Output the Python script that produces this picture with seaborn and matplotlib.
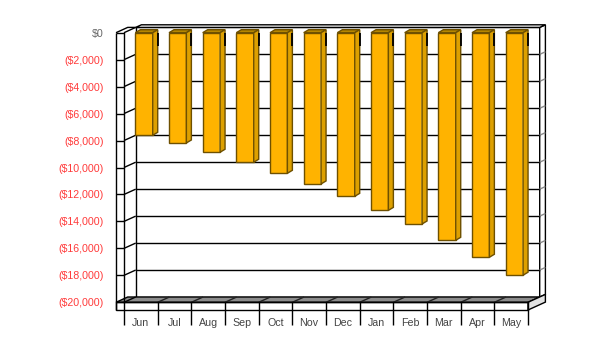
import numpy as np
import pandas as pd
import matplotlib
matplotlib.use('Agg')
import matplotlib.pyplot as plt
import seaborn as sns
from matplotlib.patches import Polygon, Rectangle

# ---- data ----
months = ['Jun', 'Jul', 'Aug', 'Sep', 'Oct', 'Nov', 'Dec', 'Jan', 'Feb', 'Mar', 'Apr', 'May']
balance = [-7610, -8180, -8870, -9610, -10430, -11220, -12140, -13180, -14190, -15400, -16660, -17990]
ytick_values = [0, -2000, -4000, -6000, -8000, -10000, -12000, -14000, -16000, -18000, -20000]
ytick_labels = ['$0', '($2,000)', '($4,000)', '($6,000)', '($8,000)', '($10,000)',
                '($12,000)', '($14,000)', '($16,000)', '($18,000)', '($20,000)']

sns.set_theme(style='white')
plt.rcParams['font.family'] = ['Liberation Sans', 'DejaVu Sans']

W, H = 604, 348
fig = plt.figure(figsize=(W / 100, H / 100), dpi=100)
x0, x1 = 124, 528
ytop, ybot = 32.7, 302.3
ax = fig.add_axes([x0 / W, (H - ybot) / H, (x1 - x0) / W, (ybot - ytop) / H])

df = pd.DataFrame({'month': months, 'balance': balance})
sns.barplot(data=df, x='month', y='balance', order=months, color='#FFB300',
            saturation=1, width=0.516, edgecolor='#6E5000', linewidth=1,
            ax=ax, zorder=1)
bars = list(ax.patches)

ymin, ymax = -20000, 0
ax.set_xlim(-0.5, 11.5)
ax.set_ylim(ymin, ymax)
ax.patch.set_visible(False)

# pixel -> data conversions
p0 = ax.transData.transform((0, 0))
ppx = ax.transData.transform((1, 0))[0] - p0[0]
ppy = ax.transData.transform((0, 1))[1] - p0[1]
def off(px, py):
    return px / ppx, py / ppy

Dx, Dy = off(11.7, 5.3)      # wall depth
dx, dy = off(5.0, 3.0)       # bar depth
tx, ty = off(8.0, 7.7)       # slab thickness
ex, ey = off(5.7, 2.6)       # back-wall thickness
L, R = -0.5, 11.5

def poly(pts, fc, ec='black', z=0.3, lw=1):
    ax.add_patch(Polygon(pts, closed=True, facecolor=fc, edgecolor=ec,
                         linewidth=lw, zorder=z, clip_on=False))

def line(xs, ys, c='black', z=0.35, lw=1):
    ax.plot(xs, ys, color=c, lw=lw, zorder=z, clip_on=False, solid_capstyle='butt')

# back wall
poly([(L + Dx, ymin + Dy), (R + Dx, ymin + Dy), (R + Dx, Dy), (L + Dx, Dy)], 'white', z=0.2)
poly([(R + Dx, Dy), (R + Dx + ex, Dy + ey), (R + Dx + ex, ymin + Dy + ey), (R + Dx, ymin + Dy)], 'white', z=0.2)
poly([(L + Dx, Dy), (R + Dx, Dy), (R + Dx + ex, Dy + ey), (L + Dx + ex, Dy + ey)], 'white', z=0.2)
for v in ytick_values[1:-1]:
    line([L + Dx, R + Dx], [v + Dy, v + Dy], z=0.3)
    line([R + Dx, R + Dx + ex], [v + Dy, v + Dy + ey], c='#8a8a8a', z=0.3)
# left wall diagonals
for v in ytick_values:
    line([L, L + Dx], [v, v + Dy], z=0.3)
line([L - tx, L - tx + Dx, L + Dx], [0, Dy, Dy], z=0.3)
line([L - tx, L - tx], [0, ymin - ty], z=0.45)

# floor
poly([(L - tx, ymin), (R, ymin), (R + Dx, ymin + Dy), (L - tx + Dx, ymin + Dy)], '#8C8C8C', z=0.25)
for k in np.arange(0.5, 11, 1):
    line([k, k + Dx], [ymin, ymin + Dy], c='#222222', z=0.27)
poly([(L - tx, ymin - ty), (R, ymin - ty), (R, ymin), (L - tx, ymin)], 'white', z=0.25)
poly([(R, ymin), (R + Dx + ex, ymin + Dy + ey), (R + Dx + ex, ymin + Dy + ey - ty), (R, ymin - ty)],
     '#E2E2E2', z=0.25)

# 3D bars
shift = off(3.2, 0)[0]
for p in bars:
    p.set_x(p.get_x() + shift)
    p.set_clip_on(False)
    l = p.get_x()
    r = l + p.get_width()
    b = p.get_y() + p.get_height()
    poly([(l, 0), (r, 0), (r + dx, dy), (l + dx, dy)], '#B58600', ec='#6E5000', z=1.1)
    poly([(r, 0), (r + dx, dy), (r + dx, b + dy), (r, b)], '#DDA000', ec='#6E5000', z=1.1)
    line([r - 0.02, r - 0.02], [b + 1 / ppy, -1 / ppy], c='#FFD24D', z=1.05, lw=0.8)

# short dark lines at top boundaries
for k in np.arange(0.5, 12, 1):
    line([k, k], [0, -off(0, 13.4)[1]], c='black', z=1.5, lw=1.3)

# spines
for s in ['top', 'right']:
    ax.spines[s].set_visible(False)
for s in ['left', 'bottom']:
    ax.spines[s].set_color('black')
    ax.spines[s].set_linewidth(1)

# y axis
ax.set_yticks(ytick_values, ytick_labels)
ax.tick_params(axis='y', direction='out', length=8 * 0.72, width=1, color='black',
               pad=12 * 0.72, labelsize=7.7, left=True)
for lbl, v in zip(ax.get_yticklabels(), ytick_values):
    lbl.set_color('#666666' if v == 0 else '#FF3B3B')
ax.set_ylabel('')

# x axis
ax.set_xticks(np.arange(-0.5, 12, 1), [''] * 13)
ax.set_xticks(np.arange(12), months, minor=True)
ax.tick_params(axis='x', which='major', direction='out', length=22.7 * 0.72, width=1,
               color='black', bottom=True)
ax.tick_params(axis='x', which='minor', length=0, pad=11.2, labelsize=7.7,
               labelcolor='#444444', bottom=True)
ax.set_xlabel('')

fig.savefig('out.png', dpi=100)
